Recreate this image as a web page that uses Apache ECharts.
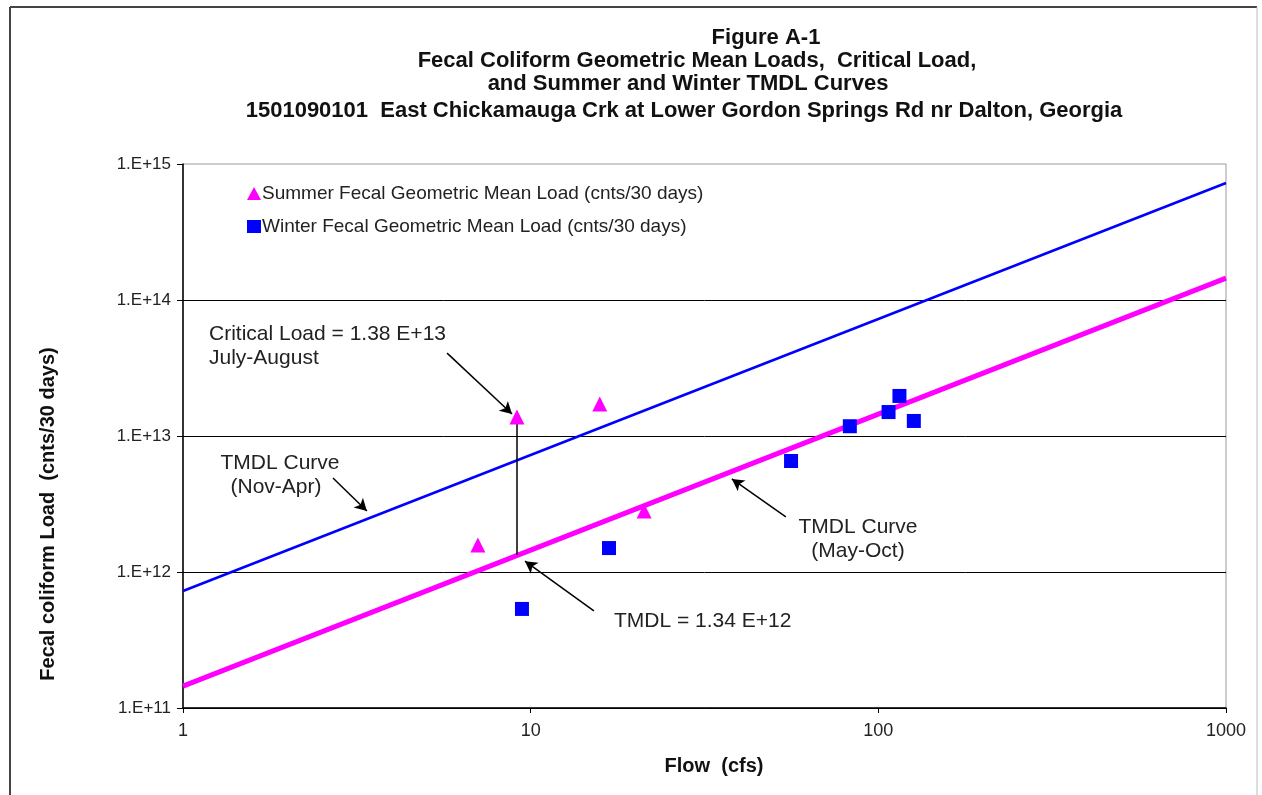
<!DOCTYPE html>
<html>
<head>
<meta charset="utf-8">
<title>Figure A-1</title>
<script src="https://cdn.jsdelivr.net/npm/echarts@6/dist/echarts.min.js"></script>
<style>
  html, body { margin: 0; padding: 0; background: #fff; }
  #chart { width: 1262px; height: 795px; }
</style>
</head>
<body>
<div id="chart"></div>
<script>
// summer geometric mean loads (cnts/30 days)
const summerFlow = [7.05, 9.13, 15.8, 21.2];
const summerLoad = [1.58e12, 1.38e13, 1.72e13, 2.81e12];
// winter geometric mean loads
const winterFlow = [9.44, 16.8, 56.1, 82.8, 107, 115, 126.5];
const winterLoad = [5.35e11, 1.5e12, 6.55e12, 1.18e13, 1.5e13, 1.97e13, 1.29e13];
// TMDL curves (ends of the line)
const curveFlow = [1, 1000];
const winterCurve = [7.25e11, 7.25e14];
const summerCurve = [1.45e11, 1.45e14];
// critical load marker
const criticalFlow = 9.13;
const criticalLoad = 1.38e13;
const tmdlLoad = 1.34e12;
// annotation arrows [from, to] in flow/load
const arrows = [
  [[5.75, 4.07e13], [8.84, 1.45e13]], // critical load
  [[2.70, 4.91e12], [3.38, 2.81e12]], // Nov-Apr curve
  [[54.2, 2.54e12], [37.9, 4.83e12]], // May-Oct curve
  [[15.2, 5.17e11], [9.63, 1.20e12]], // TMDL
];

const chart = echarts.init(document.getElementById('chart'));
const font = 'Liberation Sans, Arial, sans-serif';

function zip(xs, ys) {
  return xs.map((x, i) => [x, ys[i]]);
}

function label(text, x, y, opts) {
  return {
    type: 'text',
    x: x,
    y: y,
    rotation: (opts && opts.rotation) || 0,
    style: {
      text: text,
      fill: (opts && opts.color) || '#222',
      font: (opts && opts.font) || ('21px ' + font),
      textAlign: (opts && opts.align) || 'left',
      textVerticalAlign: 'middle',
    },
    z: 10,
  };
}

const titleFont = 'bold 22px ' + font;

const option = {
  animation: false,
  grid: {
    left: 183,
    right: 36,
    top: 164,
    bottom: 87,
    show: true,
    borderColor: '#999',
    borderWidth: 1,
  },
  legend: {
    orient: 'vertical',
    left: 242,
    top: 179,
    itemGap: 14,
    itemWidth: 14,
    itemHeight: 13,
    textStyle: { fontSize: 19, color: '#222', fontFamily: font, padding: [0, 0, 0, -4] },
    data: [
      { name: 'Summer Fecal Geometric Mean Load (cnts/30 days)', icon: 'triangle' },
      { name: 'Winter Fecal Geometric Mean Load (cnts/30 days)', icon: 'rect' },
    ],
  },
  xAxis: {
    type: 'log',
    logBase: 10,
    min: 1,
    max: 1000,
    axisLine: { lineStyle: { color: '#000', width: 1.5 } },
    axisTick: { length: 5, lineStyle: { color: '#000' } },
    axisLabel: {
      color: '#222',
      fontSize: 18,
      fontFamily: font,
      margin: 14,
      formatter: (v) => String(Math.round(v)),
    },
    splitLine: { show: false },
  },
  yAxis: {
    type: 'log',
    logBase: 10,
    min: 1e11,
    max: 1e15,
    axisLine: { show: true, lineStyle: { color: '#000', width: 1.5 } },
    axisTick: { show: true, length: 6, lineStyle: { color: '#000' } },
    axisLabel: {
      color: '#222',
      fontSize: 17,
      fontFamily: font,
      margin: 12,
      formatter: (v) => '1.E+' + Math.round(Math.log10(v)),
    },
    splitLine: { show: true, showMaxLine: false, lineStyle: { color: '#000', width: 1 } },
  },
  series: [
    {
      name: 'TMDL Curve (Nov-Apr)',
      type: 'line',
      data: zip(curveFlow, winterCurve),
      symbol: 'none',
      lineStyle: { color: '#0000FF', width: 2.5 },
      silent: true,
      z: 3,
    },
    {
      name: 'TMDL Curve (May-Oct)',
      type: 'line',
      data: zip(curveFlow, summerCurve),
      symbol: 'none',
      lineStyle: { color: '#FF00FF', width: 5 },
      silent: true,
      z: 3,
      markLine: {
        silent: true,
        animation: false,
        label: { show: false },
        lineStyle: { color: '#000', width: 1.5, type: 'solid' },
        symbol: ['none', 'arrow'],
        symbolSize: [10, 12],
        data: [
          [
            { coord: [criticalFlow, tmdlLoad], symbol: 'none' },
            { coord: [criticalFlow, criticalLoad], symbol: 'none' },
          ],
        ].concat(arrows.map((a) => [{ coord: a[0] }, { coord: a[1] }])),
      },
    },
    {
      name: 'Summer Fecal Geometric Mean Load (cnts/30 days)',
      type: 'scatter',
      data: zip(summerFlow, summerLoad),
      symbol: 'triangle',
      symbolSize: 15,
      itemStyle: { color: '#FF00FF', opacity: 1 },
      z: 5,
    },
    {
      name: 'Winter Fecal Geometric Mean Load (cnts/30 days)',
      type: 'scatter',
      data: zip(winterFlow, winterLoad),
      symbol: 'rect',
      symbolSize: 14,
      itemStyle: { color: '#0000FF', opacity: 1 },
      z: 5,
    },
  ],
  graphic: [
    // outer frame
    { type: 'line', shape: { x1: 10, y1: 7, x2: 10, y2: 795 }, style: { stroke: '#444', lineWidth: 2 } },
    { type: 'line', shape: { x1: 10, y1: 7, x2: 1257, y2: 7 }, style: { stroke: '#444', lineWidth: 2 } },
    { type: 'line', shape: { x1: 1257, y1: 7, x2: 1257, y2: 795 }, style: { stroke: '#bbb', lineWidth: 1 } },
    // title
    label('Figure A-1', 766, 38, { font: titleFont, align: 'center', color: '#111' }),
    label('Fecal Coliform Geometric Mean Loads,  Critical Load,', 697, 61, { font: titleFont, align: 'center', color: '#111' }),
    label('and Summer and Winter TMDL Curves', 688, 84, { font: titleFont, align: 'center', color: '#111' }),
    label('1501090101  East Chickamauga Crk at Lower Gordon Springs Rd nr Dalton, Georgia', 684, 111, { font: titleFont, align: 'center', color: '#111' }),
    // axis titles
    label('Flow  (cfs)', 714, 766, { font: 'bold 20px ' + font, align: 'center', color: '#111' }),
    label('Fecal coliform Load  (cnts/30 days)', 48, 514, { font: 'bold 20px ' + font, align: 'center', color: '#111', rotation: Math.PI / 2 }),
    // annotations
    label('Critical Load = 1.38 E+13', 209, 334),
    label('July-August', 209, 358),
    label('TMDL Curve', 280, 463, { align: 'center' }),
    label('(Nov-Apr)', 276, 487, { align: 'center' }),
    label('TMDL Curve', 858, 527, { align: 'center' }),
    label('(May-Oct)', 858, 551, { align: 'center' }),
    label('TMDL = 1.34 E+12', 614, 621),
  ],
};

chart.setOption(option);
</script>
</body>
</html>
